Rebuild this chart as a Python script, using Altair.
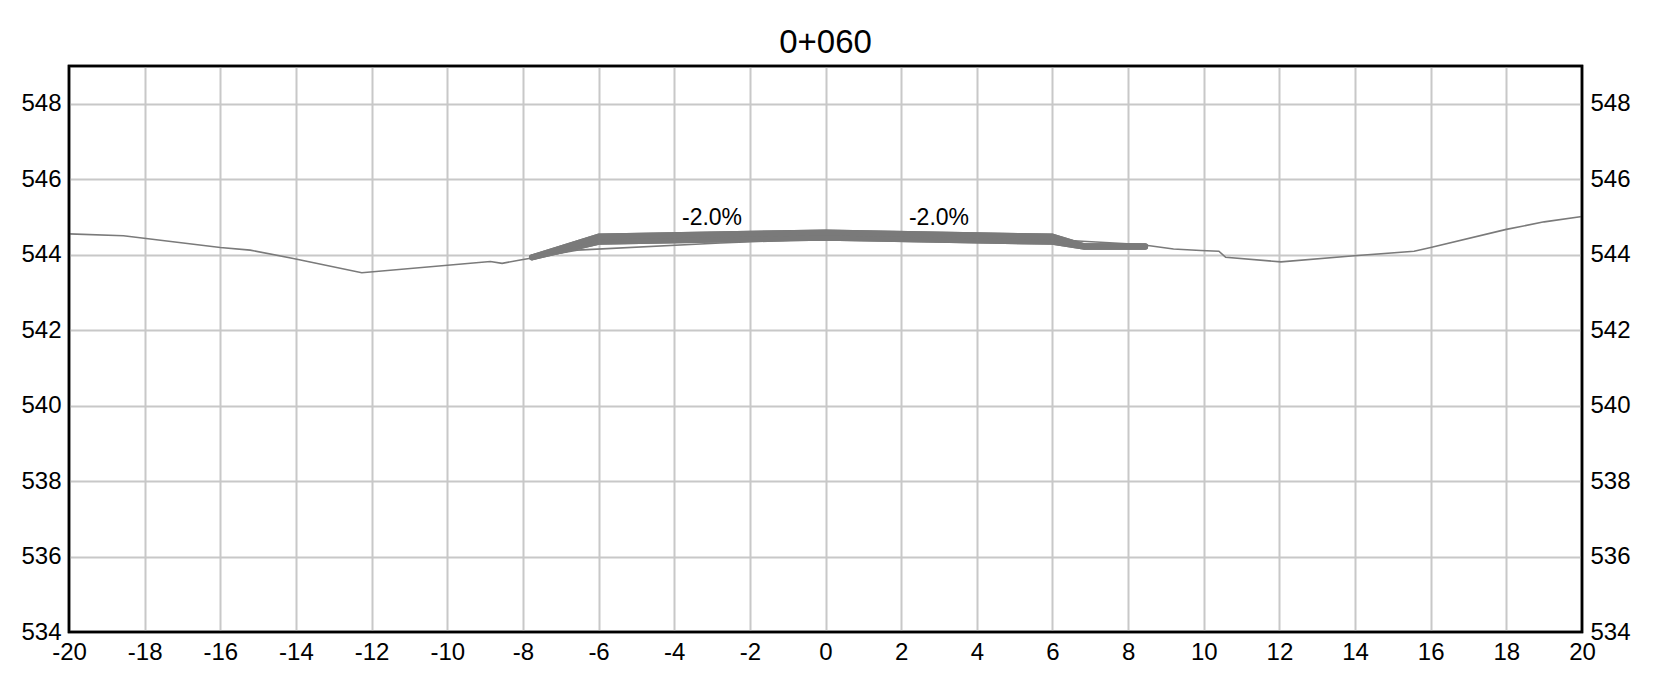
import altair as alt
import pandas as pd

FONT = "Liberation Sans Narrow, Arial Narrow, Liberation Sans, Arial, sans-serif"

# Existing ground
ground_x = [-20.0, -18.56, -16.0, -15.21, -14.07, -12.26, -8.86, -8.55, -8.07, -7.76, -6.57, -2.78,
            0.0, 6.56, 8.33, 9.2, 9.92, 10.4, 10.58, 12.04, 13.98, 15.56, 16.0, 18.0, 19.0, 20.0]
ground_y = [544.55, 544.50, 544.19, 544.12, 543.90, 543.52, 543.82, 543.77, 543.86, 543.91, 544.12, 544.31,
            544.42, 544.37, 544.27, 544.15, 544.11, 544.09, 543.93, 543.81, 543.97, 544.09, 544.19, 544.67, 544.87, 545.01]

# Design surface (top layer) and lower pavement layer, same stations
road_x = [-7.76, -6.0, 0.0, 6.0, 6.85, 8.45]
top_y = [543.93, 544.48, 544.59, 544.48, 544.22, 544.22]
bot_y = [543.93, 544.34, 544.45, 544.34, 544.21, 544.21]

# Cross-slope labels
lab_x = [-3.0, 3.0]
lab_y = [544.96, 544.96]
lab_t = ["-2.0%", "-2.0%"]

x_ticks = list(range(-20, 21, 2))
y_ticks = list(range(534, 549, 2))
x_dom = [-20, 20]
y_dom = [534, 549]

ground = pd.DataFrame({"x": ground_x, "y": ground_y, "o": range(len(ground_x))})
road = pd.DataFrame({"x": road_x, "top": top_y, "bot": bot_y, "o": range(len(road_x))})
labs = pd.DataFrame({"x": lab_x, "y": lab_y, "t": lab_t})
frame = pd.DataFrame({"x0": [x_dom[0]], "x1": [x_dom[1]], "y0": [y_dom[0]], "y1": [y_dom[1]]})

xscale = alt.Scale(domain=x_dom, nice=False, zero=False)
yscale = alt.Scale(domain=y_dom, nice=False, zero=False)

LBL = "'' + datum.value"
xaxis = alt.Axis(values=x_ticks, title=None, grid=True, labelFlush=False, labelOverlap=False,
                 labelPadding=8, ticks=False, domain=False, labelExpr=LBL)
yaxis_l = alt.Axis(values=y_ticks, title=None, grid=True, labelFlush=False, labelOverlap=False,
                   labelPadding=8, ticks=False, domain=False, orient="left", labelExpr=LBL)
yaxis_r = alt.Axis(values=y_ticks, title=None, grid=False, labelFlush=False, labelOverlap=False,
                   labelPadding=8, ticks=False, domain=False, orient="right", labelExpr=LBL)

X = alt.X("x:Q", scale=xscale, axis=xaxis)
C = "#7a7a7a"

g = alt.Chart(ground).mark_line(color=C, strokeWidth=1.6).encode(
    x=X, y=alt.Y("y:Q", scale=yscale, axis=yaxis_l), order="o:Q")
band = alt.Chart(road).mark_area(fill=C, fillOpacity=1, opacity=1, stroke=C, strokeWidth=6,
                                 strokeJoin="round").encode(
    x=X, y=alt.Y("top:Q", scale=yscale, axis=yaxis_l), y2="bot:Q")
b = alt.Chart(road).mark_line(color=C, strokeWidth=6, strokeCap="round", strokeJoin="round").encode(
    x=X, y=alt.Y("bot:Q", scale=yscale, axis=yaxis_l), order="o:Q")
t = alt.Chart(road).mark_line(color=C, strokeWidth=6, strokeCap="round", strokeJoin="round").encode(
    x=X, y=alt.Y("top:Q", scale=yscale, axis=yaxis_l), order="o:Q")
txt = alt.Chart(labs).mark_text(font=FONT, fontSize=23, color="black", align="center", baseline="middle").encode(
    x=X, y=alt.Y("y:Q", scale=yscale, axis=yaxis_l), text="t:N")
fr = alt.Chart(frame).mark_rect(fill=None, stroke="black", strokeWidth=2.5).encode(
    x=alt.X("x0:Q", scale=xscale, axis=xaxis), x2="x1:Q",
    y=alt.Y("y0:Q", scale=yscale, axis=yaxis_l), y2="y1:Q")

left = alt.layer(g, band, b, t, txt, fr)
right = alt.Chart(ground).mark_line(opacity=0).encode(
    x=X, y=alt.Y("y:Q", scale=yscale, axis=yaxis_r), order="o:Q")

chart = alt.layer(left, right).resolve_scale(y="independent").properties(
    width=1513, height=566,
    autosize="none",
    background="white",
    padding={"left": 61, "top": 58, "right": 64, "bottom": 42},
    title=alt.TitleParams("0+060", font=FONT, fontSize=33, fontWeight="normal", color="black", offset=5, anchor="middle"),
).configure_view(stroke="black", strokeWidth=2.5).configure_axis(
    labelFont=FONT, labelFontSize=24, labelColor="black", gridColor="#c8c8c8", gridWidth=2, gridOpacity=1
)

chart.save("out.html", embed_options={"renderer": "svg", "actions": False})
